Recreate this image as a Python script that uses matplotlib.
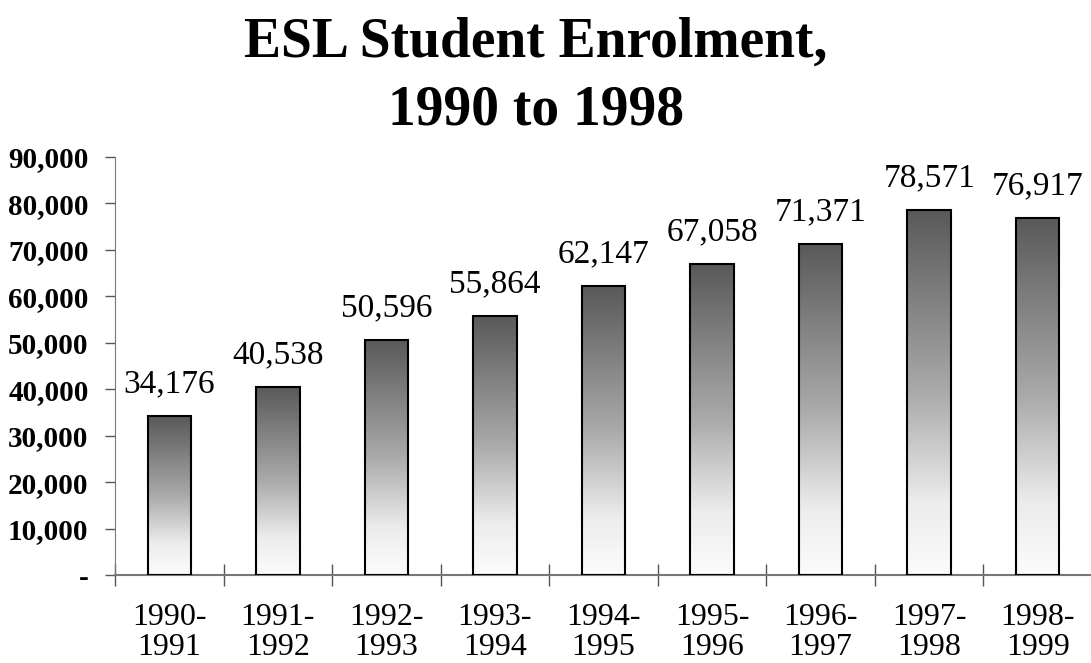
import matplotlib.pyplot as plt
import numpy as np
from matplotlib.colors import LinearSegmentedColormap
from matplotlib.ticker import FuncFormatter

years = ["1990-\n1991", "1991-\n1992", "1992-\n1993", "1993-\n1994", "1994-\n1995",
         "1995-\n1996", "1996-\n1997", "1997-\n1998", "1998-\n1999"]
enrolment = [34176, 40538, 50596, 55864, 62147, 67058, 71371, 78571, 76917]

plt.rcParams["font.family"] = ["Liberation Serif", "DejaVu Serif"]

fig = plt.figure(figsize=(10.91, 6.63), dpi=100)
ax = fig.add_axes([0.1054, 0.1327, 0.8955, 0.6305])

x = np.arange(len(years))
width = 0.4
bars = ax.bar(x, enrolment, width, facecolor="none", edgecolor="black",
              linewidth=1.5, zorder=3)

# grey-to-white fill, stretched over each bar separately
shade = LinearSegmentedColormap.from_list(
    "shade", [(0, "#fcfcfc"), (0.2, "#ececec"), (0.5, "#aaaaaa"), (1, "#595959")])
grad = np.linspace(0, 1, 256).reshape(-1, 1)
for rect in bars:
    x0, h = rect.get_x(), rect.get_height()
    im = ax.imshow(grad, cmap=shade, aspect="auto", origin="lower",
                   extent=[x0, x0 + rect.get_width(), 0, h], zorder=2)
    im.set_clip_path(rect)
    ax.annotate(f"{h:,.0f}", (rect.get_x() + rect.get_width() / 2, h),
                xytext=(0, 12), textcoords="offset points",
                ha="center", va="bottom", fontsize=24)

ax.set_xlim(-0.5, len(years) - 0.5)
ax.set_ylim(0, 90000)
ax.set_yticks(np.arange(0, 90001, 10000))
ax.yaxis.set_major_formatter(FuncFormatter(lambda v, _: "-" if v == 0 else f"{v:,.0f}"))
for lbl in ax.get_yticklabels():
    lbl.set_fontweight("bold")
ax.tick_params(axis="y", labelsize=21, length=7, width=1, color="#555555", pad=12)

# category separators cross the baseline
ax.set_xticks(np.arange(-0.5, len(years) - 0.4, 1.0))
ax.set_xticklabels([])
ax.set_xticks(x, minor=True)
ax.set_xticklabels(years, minor=True, fontsize=23, linespacing=1.05)
ax.tick_params(axis="x", which="major", direction="inout", length=16, width=1,
               color="#555555")
ax.tick_params(axis="x", which="minor", length=0, pad=20)

for side in ["top", "right"]:
    ax.spines[side].set_visible(False)
ax.spines["left"].set_color("#777777")
ax.spines["bottom"].set_color("#777777")
ax.spines["bottom"].set_linewidth(1.5)

fig.text(0.491, 0.975, "ESL Student Enrolment,\n1990 to 1998", ha="center", va="top",
         fontsize=40, fontweight="bold", linespacing=1.4)

fig.savefig("out.png", dpi=100)
